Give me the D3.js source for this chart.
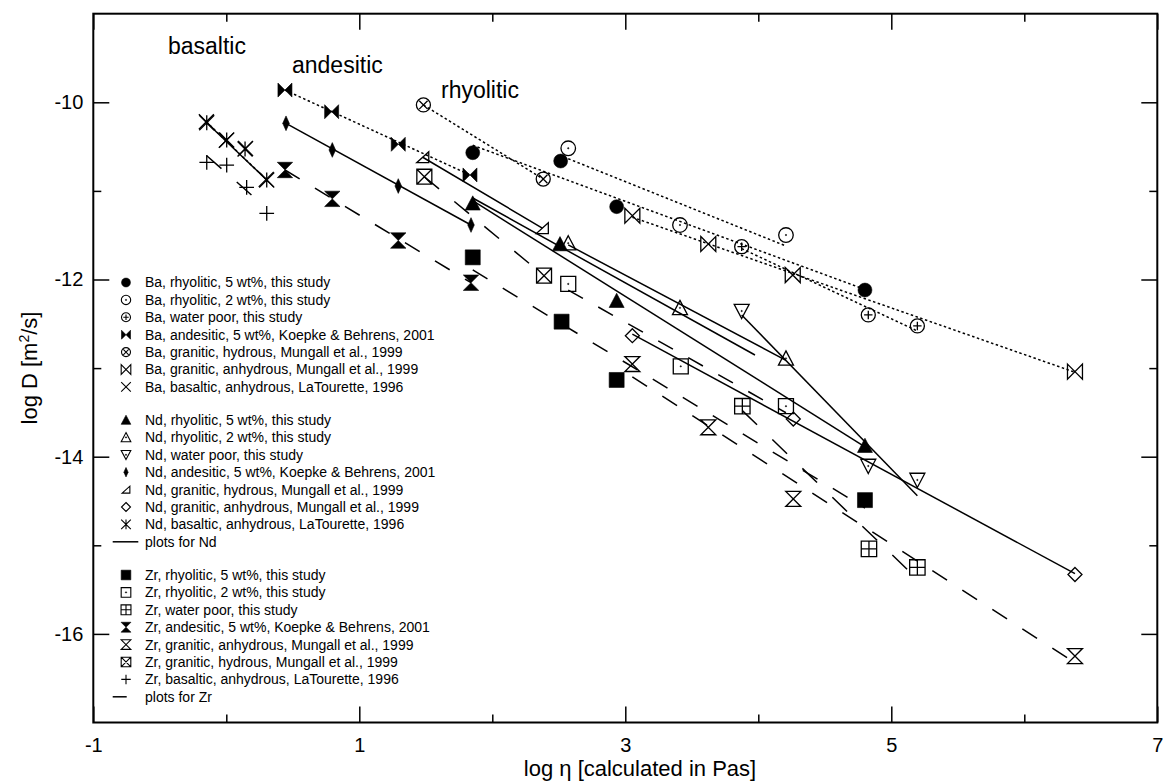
<!DOCTYPE html>
<html><head><meta charset="utf-8">
<script src="https://cdn.jsdelivr.net/npm/d3@7"></script>
<style>
body{margin:0;background:#fff;}
svg{display:block;font-family:"Liberation Sans",Arial,Helvetica,sans-serif;}
</style></head><body>
<svg id="chart" width="1163" height="782"></svg>
<script>
// ---- axis ticks ----
const xMajorTicks = [-1, 1, 3, 5, 7];
const xMinorTicks = [0, 2, 4, 6];
const yMajorTicks = [-10, -12, -14, -16];
const yMinorTicks = [-11, -13, -15];

// ---- Ba (log eta, log D) ----
const baRhy5X = [1.853, 2.514, 2.935, 4.802];
const baRhy5Y = [-10.569, -10.663, -11.178, -12.119];
const baRhy2X = [2.571, 3.411, 4.208];
const baRhy2Y = [-10.519, -11.385, -11.498];
const baDryX = [3.875, 4.827, 5.196];
const baDryY = [-11.63, -12.40, -12.524];
const baAndX = [0.441, 0.792, 1.293, 1.832];
const baAndY = [-9.862, -10.106, -10.474, -10.82];
const baGranHydX = [1.482, 2.383];
const baGranHydY = [-10.03, -10.866];
const baGranAnhX = [3.053, 3.624, 4.259, 6.381];
const baGranAnhY = [-11.28, -11.6, -11.95, -13.04];
const baBasX = [-0.15, 0.0, 0.145, 0.30];
const baBasY = [-10.22, -10.43, -10.52, -10.87];

// ---- Nd ----
const ndRhy5X = [1.853, 2.509, 2.935, 4.802];
const ndRhy5Y = [-11.14, -11.6, -12.24, -13.876];
const ndRhy2X = [2.571, 3.411, 4.208];
const ndRhy2Y = [-11.59, -12.32, -12.89];
const ndDryX = [3.875, 4.827, 5.196];
const ndDryY = [-12.356, -14.105, -14.263];
const ndAndX = [0.449, 0.797, 1.293, 1.840];
const ndAndY = [-10.237, -10.538, -10.945, -11.385];
const ndGranHydX = [1.477, 2.376];
const ndGranHydY = [-10.62, -11.42];
const ndGranAnhX = [3.053, 4.263, 6.381];
const ndGranAnhY = [-12.634, -13.575, -15.33];
const ndBasX = [-0.147, 0.003, 0.141, 0.304];
const ndBasY = [-10.23, -10.425, -10.527, -10.877];

// ---- Zr ----
const zrRhy5X = [1.853, 2.521, 2.935, 4.802];
const zrRhy5Y = [-11.75, -12.476, -13.134, -14.49];
const zrRhy2X = [2.571, 3.417, 4.208];
const zrRhy2Y = [-12.05, -12.98, -13.43];
const zrDryX = [3.88, 4.832, 5.196];
const zrDryY = [-13.43, -15.04, -15.25];
const zrAndX = [0.441, 0.797, 1.293, 1.840];
const zrAndY = [-10.764, -11.09, -11.56, -12.036];
const zrGranAnhX = [3.053, 3.624, 4.263, 6.381];
const zrGranAnhY = [-12.954, -13.668, -14.477, -16.25];
const zrGranHydX = [1.489, 2.389];
const zrGranHydY = [-10.84, -11.957];
const zrBasX = [-0.147, 0.003, 0.153, 0.304];
const zrBasY = [-10.677, -10.708, -10.96, -11.253];

// ---- fitted lines: [x1, y1, x2, y2] ----
const baFits = [
  [1.853, -10.485, 4.802, -12.112],
  [2.571, -10.637, 4.208, -11.622],
  [3.875, -11.651, 5.196, -12.581],
  [0.441, -9.862, 1.832, -10.82],
  [1.482, -10.03, 2.383, -10.866],
  [3.053, -11.297, 6.381, -13.047],
  [-0.15, -10.22, 0.30, -10.87]
];
const ndFits = [
  [1.853, -11.11, 4.802, -13.888],
  [1.853, -11.08, 3.975, -12.852],
  [2.571, -11.61, 4.208, -12.912],
  [3.875, -12.40, 5.196, -14.44],
  [0.449, -10.237, 1.840, -11.385],
  [1.477, -10.62, 2.376, -11.42],
  [3.053, -12.617, 6.381, -15.32],
  [-0.147, -10.23, 0.304, -10.877]
];
const zrFits = [
  [1.853, -11.892, 4.802, -14.579],
  [2.571, -12.12, 4.208, -13.504],
  [3.88, -13.48, 5.196, -15.382],
  [0.441, -10.764, 1.840, -12.036],
  [3.053, -13.098, 6.381, -16.327],
  [1.489, -10.84, 2.389, -11.957],
  [-0.147, -10.603, 0.304, -11.197]
];

// ---- legend ----
const baLabels = [
  "Ba, rhyolitic, 5 wt%, this study",
  "Ba, rhyolitic, 2 wt%, this study",
  "Ba, water poor, this study",
  "Ba, andesitic, 5 wt%, Koepke & Behrens, 2001",
  "Ba, granitic, hydrous, Mungall et al., 1999",
  "Ba, granitic, anhydrous, Mungall et al., 1999",
  "Ba, basaltic, anhydrous, LaTourette, 1996"
];
const ndLabels = [
  "Nd, rhyolitic, 5 wt%, this study",
  "Nd, rhyolitic, 2 wt%, this study",
  "Nd, water poor, this study",
  "Nd, andesitic, 5 wt%, Koepke & Behrens, 2001",
  "Nd, granitic, hydrous, Mungall et al., 1999",
  "Nd, granitic, anhydrous, Mungall et al., 1999",
  "Nd, basaltic, anhydrous, LaTourette, 1996",
  "plots for Nd"
];
const zrLabels = [
  "Zr, rhyolitic, 5 wt%, this study",
  "Zr, rhyolitic, 2 wt%, this study",
  "Zr, water poor, this study",
  "Zr, andesitic, 5 wt%, Koepke & Behrens, 2001",
  "Zr, granitic, anhydrous, Mungall et al., 1999",
  "Zr, granitic, hydrous, Mungall et al., 1999",
  "Zr, basaltic, anhydrous, LaTourette, 1996",
  "plots for Zr"
];
const meltLabels = ["basaltic", "andesitic", "rhyolitic"];

(function () {
// series tables built from the arrays above
const baSeries = [
  {x: baRhy5X, y: baRhy5Y, m: "dot"},
  {x: baRhy2X, y: baRhy2Y, m: "circDot"},
  {x: baDryX, y: baDryY, m: "circPlus"},
  {x: baAndX, y: baAndY, m: "bowFill"},
  {x: baGranHydX, y: baGranHydY, m: "circX"},
  {x: baGranAnhX, y: baGranAnhY, m: "bowOpen"},
  {x: baBasX, y: baBasY, m: "cross"}
];
const ndSeries = [
  {x: ndRhy5X, y: ndRhy5Y, m: "triFill"},
  {x: ndRhy2X, y: ndRhy2Y, m: "triDot"},
  {x: ndDryX, y: ndDryY, m: "triDownDot"},
  {x: ndAndX, y: ndAndY, m: "thinDiam"},
  {x: ndGranHydX, y: ndGranHydY, m: "rightTri"},
  {x: ndGranAnhX, y: ndGranAnhY, m: "diamOpen"},
  {x: ndBasX, y: ndBasY, m: "star"}
];
const zrSeries = [
  {x: zrRhy5X, y: zrRhy5Y, m: "sqFill"},
  {x: zrRhy2X, y: zrRhy2Y, m: "sqDot"},
  {x: zrDryX, y: zrDryY, m: "sqPlus"},
  {x: zrAndX, y: zrAndY, m: "hourFill"},
  {x: zrGranAnhX, y: zrGranAnhY, m: "hourOpen"},
  {x: zrGranHydX, y: zrGranHydY, m: "sqX"},
  {x: zrBasX, y: zrBasY, m: "plus"}
];

const svg = d3.select("#chart");
const pLeft = 93.3, pRight = 1157.3, pTop = 13.7, pBottom = 722.5;
const x = d3.scaleLinear().domain([-1, 7]).range([pLeft, pRight]);
const y = d3.scaleLinear().domain([-17, -9]).range([pBottom, pTop]);

// relative size of each symbol
const symScale = {
  dot: 1, circDot: 1.04, circPlus: 1, circX: 1, bowFill: 1, bowOpen: 1.07, cross: 1.07,
  triFill: 1.07, triDot: 1.07, triDownDot: 1.07, thinDiam: 1, rightTri: 0.86, diamOpen: 1,
  star: 1.07, sqFill: 1.07, sqDot: 1.07, sqPlus: 1.1, sqX: 1.07, hourFill: 1.1, hourOpen: 1.07, plus: 1.05
};

// marker drawing: each marker is a group of primitives centred on 0,0
function drawMarker(g, type, r) {
  const sw = r > 5 ? 1.3 : 1.1;
  const line = (d) => g.append("path").attr("d", d).attr("fill", "none").attr("stroke", "#000").attr("stroke-width", sw);
  const fillP = (d) => g.append("path").attr("d", d).attr("fill", "#000").attr("stroke", "#000").attr("stroke-width", 0.6);
  const circ = (rr, filled) => g.append("circle").attr("r", rr)
      .attr("fill", filled ? "#000" : "none").attr("stroke", "#000").attr("stroke-width", filled ? 0.5 : sw);
  const k = r * (symScale[type] || 1);
  switch (type) {
    case "dot": circ(k, true); break;
    case "circDot": circ(k, false); circ(0.7, true); break;
    case "circPlus": circ(k, false); line(`M${-0.6*k},0H${0.6*k}M0,${-0.6*k}V${0.6*k}`); break;
    case "circX": circ(k, false); line(`M${-0.6*k},${-0.6*k}L${0.6*k},${0.6*k}M${-0.6*k},${0.6*k}L${0.6*k},${-0.6*k}`); break;
    case "bowFill": fillP(`M${-k},${-k}L0,0L${-k},${k}ZM${k},${-k}L0,0L${k},${k}Z`); break;
    case "bowOpen": line(`M${-k},${-k}L${k},${k}L${k},${-k}L${-k},${k}Z`); break;
    case "cross": line(`M${-k},${-k}L${k},${k}M${-k},${k}L${k},${-k}`); break;
    case "triFill": fillP(`M0,${-k}L${k},${0.9*k}L${-k},${0.9*k}Z`); break;
    case "triDot": line(`M0,${-k}L${k},${0.9*k}L${-k},${0.9*k}Z`); circ(0.7, true); break;
    case "triDownDot": line(`M0,${k}L${k},${-0.9*k}L${-k},${-0.9*k}Z`); circ(0.7, true); break;
    case "thinDiam": fillP(`M0,${-1.05*k}L${0.47*k},0L0,${1.05*k}L${-0.47*k},0Z`); break;
    case "rightTri": line(`M${-k},${0.9*k}L${k},${0.9*k}L${k},${-0.9*k}Z`); break;
    case "diamOpen": line(`M0,${-k}L${k},0L0,${k}L${-k},0Z`); break;
    case "star": line(`M${-k},${-k}L${k},${k}M${-k},${k}L${k},${-k}M0,${-k}V${k}`); break;
    case "sqFill": fillP(`M${-k},${-k}H${k}V${k}H${-k}Z`); break;
    case "sqDot": line(`M${-k},${-k}H${k}V${k}H${-k}Z`); circ(0.7, true); break;
    case "sqPlus": line(`M${-k},${-k}H${k}V${k}H${-k}ZM${-k},0H${k}M0,${-k}V${k}`); break;
    case "sqX": line(`M${-k},${-k}H${k}V${k}H${-k}ZM${-k},${-k}L${k},${k}M${-k},${k}L${k},${-k}`); break;
    case "hourFill": fillP(`M${-k},${-k}H${k}L${-k},${k}H${k}Z`); break;
    case "hourOpen": line(`M${-k},${-k}H${k}L${-k},${k}H${k}Z`); break;
    case "plus": line(`M${-k},0H${k}M0,${-k}V${k}`); break;
  }
}

// ---- axes ----
const axG = svg.append("g").attr("class", "axes");
function styleAxis(g) {
  g.select(".domain").remove();
  g.selectAll(".tick line").attr("stroke", "#000").attr("stroke-width", 1.5);
  g.selectAll(".tick text").attr("fill", "#000").style("font-size", "20px")
    .style("font-family", '"Liberation Sans",Arial,sans-serif');
}
const fmt = (d) => String(d);
axG.append("g").attr("transform", `translate(0,${pBottom})`)
  .call(d3.axisBottom(x).tickValues(xMajorTicks).tickSize(-16).tickPadding(15).tickFormat(fmt)).call(styleAxis);
axG.append("g").attr("transform", `translate(0,${pBottom})`)
  .call(d3.axisBottom(x).tickValues(xMinorTicks).tickSize(-8).tickFormat("")).call(styleAxis);
axG.append("g").attr("transform", `translate(0,${pTop})`)
  .call(d3.axisTop(x).tickValues(xMajorTicks).tickSize(-16).tickFormat("")).call(styleAxis);
axG.append("g").attr("transform", `translate(0,${pTop})`)
  .call(d3.axisTop(x).tickValues(xMinorTicks).tickSize(-8).tickFormat("")).call(styleAxis);
axG.append("g").attr("transform", `translate(${pLeft},0)`)
  .call(d3.axisLeft(y).tickValues(yMajorTicks).tickSize(-16).tickPadding(10).tickFormat(fmt)).call(styleAxis);
axG.append("g").attr("transform", `translate(${pLeft},0)`)
  .call(d3.axisLeft(y).tickValues(yMinorTicks).tickSize(-8).tickFormat("")).call(styleAxis);
axG.append("g").attr("transform", `translate(${pRight},0)`)
  .call(d3.axisRight(y).tickValues(yMajorTicks).tickSize(-16).tickFormat("")).call(styleAxis);
axG.append("g").attr("transform", `translate(${pRight},0)`)
  .call(d3.axisRight(y).tickValues(yMinorTicks).tickSize(-8).tickFormat("")).call(styleAxis);

svg.append("rect").attr("x", pLeft).attr("y", pTop).attr("width", pRight - pLeft).attr("height", pBottom - pTop)
  .attr("fill", "none").attr("stroke", "#000").attr("stroke-width", 2);

// axis titles
svg.append("text").attr("x", 640).attr("y", 776).attr("text-anchor", "middle")
  .style("font-size", "22px").text("log \u03b7 [calculated in Pas]");
const yt = svg.append("text").attr("transform", "translate(37,368) rotate(-90)")
  .attr("text-anchor", "middle").style("font-size", "22px");
yt.append("tspan").text("log D [m");
yt.append("tspan").attr("dy", -8).style("font-size", "14px").text("2");
yt.append("tspan").attr("dy", 8).text("/s]");

// ---- fitted lines ----
const fitG = svg.append("g").attr("fill", "none").attr("stroke", "#000");
// dash: a function of the line's screen geometry, or a fixed pattern
function drawFits(fits, dash, w) {
  fitG.selectAll(null).data(fits).join("line")
    .attr("x1", d => x(d[0])).attr("y1", d => y(d[1]))
    .attr("x2", d => x(d[2])).attr("y2", d => y(d[3]))
    .attr("stroke-width", w)
    .attr("stroke-dasharray", d => typeof dash === "function" ? dash(d) : dash);
}
// long dashes keep a constant horizontal pitch (14.7 px dash, 15.3 px gap)
const pitchDash = (d) => {
  const dx = x(d[2]) - x(d[0]), dy = y(d[3]) - y(d[1]);
  const k = Math.hypot(dx, dy) / Math.abs(dx);
  return `${(14.7 * k).toFixed(2)},${(15.3 * k).toFixed(2)}`;
};
drawFits(baFits, "2.5,2.5", 1.5);
drawFits(ndFits, null, 1.5);
drawFits(zrFits, pitchDash, 1.5);

// ---- data markers ----
const markG = svg.append("g");
[...baSeries, ...ndSeries, ...zrSeries].forEach(s => {
  const pts = s.x.map((v, i) => [v, s.y[i]]);
  markG.selectAll(null).data(pts).join("g")
    .attr("transform", d => `translate(${x(d[0])},${y(d[1])})`)
    .each(function () { drawMarker(d3.select(this), s.m, 7); });
});

// ---- melt composition labels ----
const meltPos = [[168, 54], [292, 73], [441, 98]];
svg.selectAll(null).data(meltLabels).join("text")
  .attr("x", (d, i) => meltPos[i][0]).attr("y", (d, i) => meltPos[i][1])
  .style("font-size", "23px").text(d => d);

// ---- legend ----
const legG = svg.append("g").style("font-size", "14px");
function legendBlock(labels, series, y0, lineSample) {
  labels.forEach((lab, i) => {
    const cy = y0 + i * 17.4;
    const row = legG.append("g").attr("transform", `translate(0,${cy})`);
    if (i < series.length) {
      drawMarker(row.append("g").attr("transform", "translate(126,0)"), series[i].m, 4.5);
    } else {
      row.append("line").attr("x1", lineSample[0]).attr("x2", lineSample[1])
        .attr("stroke", "#000").attr("stroke-width", 1.5);
    }
    row.append("text").attr("x", 145).attr("dy", "0.35em").text(lab);
  });
}
legendBlock(baLabels, baSeries, 282.5, null);
legendBlock(ndLabels, ndSeries, 420, [112.7, 138.3]);
legendBlock(zrLabels, zrSeries, 575, [112.7, 126.7]);
})();
</script>
</body></html>
